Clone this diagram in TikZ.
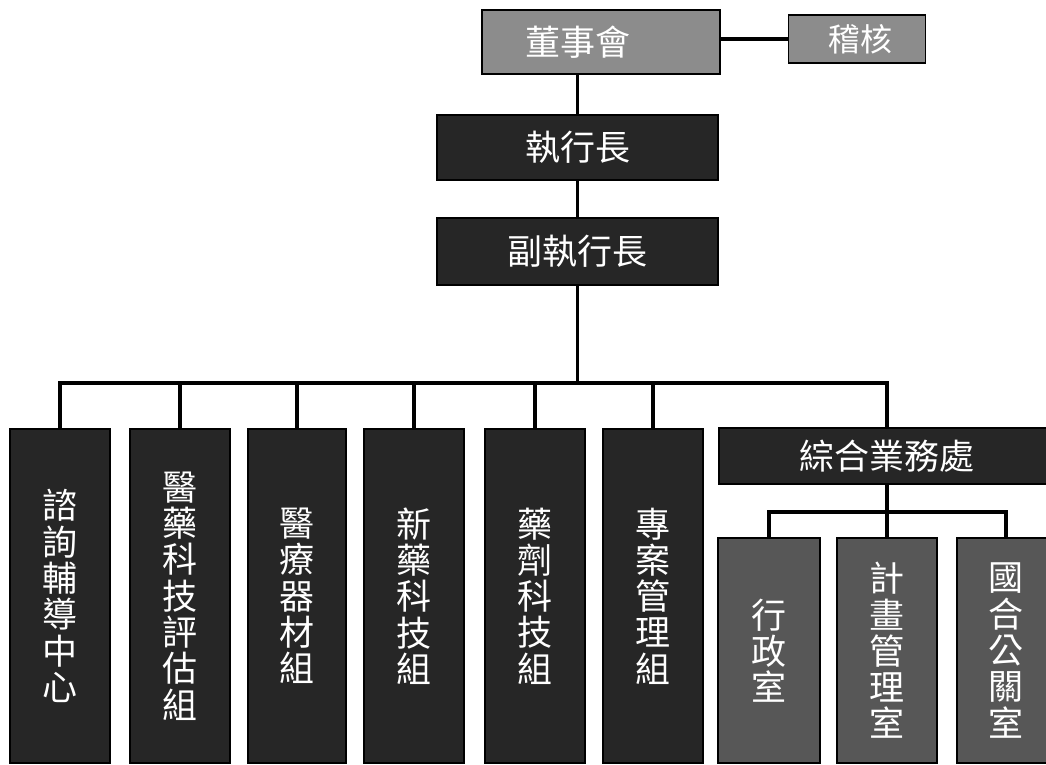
\documentclass[tikz,border=0pt]{standalone}
\usepackage{fontspec}
\newfontfamily\cjk{Noto Sans CJK TC}
\definecolor{boxdark}{HTML}{262626}
\definecolor{boxgrey}{HTML}{8C8C8C}
\definecolor{boxmid}{HTML}{575757}
\tikzset{
  base/.style={draw=black, line width=1.2pt, inner sep=0pt, text=white,
    font=\cjk\fontsize{35}{36.3}\selectfont, align=center},
  darkbox/.style={base, fill=boxdark},
  greybox/.style={base, fill=boxgrey},
  midbox/.style={base, fill=boxmid},
  labeltext/.style={inner sep=0pt, text=white, font=\cjk\fontsize{35}{36.3}\selectfont},
  link/.style={line width=3.5pt, black},
}
\begin{document}
\begin{tikzpicture}[x=1pt,y=-1pt]
\useasboundingbox (0,0) rectangle (1046,765);
% top
\node[greybox, minimum width=238pt, minimum height=64pt] (board) at (601,42) {};
\node[greybox, minimum width=137pt, minimum height=48pt, font=\cjk\fontsize{32}{33}\selectfont] (audit) at (857,39) {\hspace*{6pt}稽核};
\node[darkbox, minimum width=281pt, minimum height=65pt] (ceo) at (577.5,147.5) {執行長};
\node[labeltext] (boardtext) at (board.center -| ceo.center) {董事會};
\node[darkbox, minimum width=281pt, minimum height=67pt] (dep) at (577.5,251.5) {副執行長};
% tall units
\node[darkbox, minimum width=100pt, minimum height=334pt] (b1) at (60,596) {諮\\詢\\輔\\導\\中\\心};
\node[darkbox, minimum width=100pt, minimum height=334pt] (b2) at (180,596) {醫\\藥\\科\\技\\評\\估\\組};
\node[darkbox, minimum width=98pt, minimum height=334pt] (b3) at (297,596) {醫\\療\\器\\材\\組};
\node[darkbox, minimum width=100pt, minimum height=334pt] (b4) at (414,596) {新\\藥\\科\\技\\組};
\node[darkbox, minimum width=100pt, minimum height=334pt] (b5) at (535,596) {藥\\劑\\科\\技\\組};
\node[darkbox, minimum width=100pt, minimum height=334pt] (b6) at (653,596) {專\\案\\管\\理\\組};
\node[darkbox, minimum width=336pt, minimum height=56pt] (gen) at (887,456) {綜合業務處};
% small units
\node[midbox, minimum width=102pt, minimum height=225pt] (s1) at (769,650.5) {行\\政\\室};
\node[midbox, minimum width=100pt, minimum height=225pt] (s2) at (887,650.5) {計\\畫\\管\\理\\室};
\node[midbox, minimum width=98pt, minimum height=225pt] (s3) at (1006,650.5) {國\\合\\公\\關\\室};
% connectors
\coordinate (busy) at (0,383);
\coordinate (busb) at (0,512);
\draw[link] (audit.west) -- (audit.west -| board.east);
\draw[link] (ceo.north) -- (ceo.north |- board.south);
\draw[link] (dep.north) -- (dep.north |- ceo.south);
\draw[link] (dep.south) -- (dep.south |- busy);
\draw[link] (b1.north) |- (busy -| gen.north) -- (gen.north);
\foreach \n in {b2,b3,b4,b5,b6} \draw[link] (\n.north) -- (\n.north |- busy);
\draw[link] (gen.south) -- (s2.north);
\draw[link] (s1.north) |- (busb -| s3.north) -- (s3.north);
\end{tikzpicture}
\end{document}
